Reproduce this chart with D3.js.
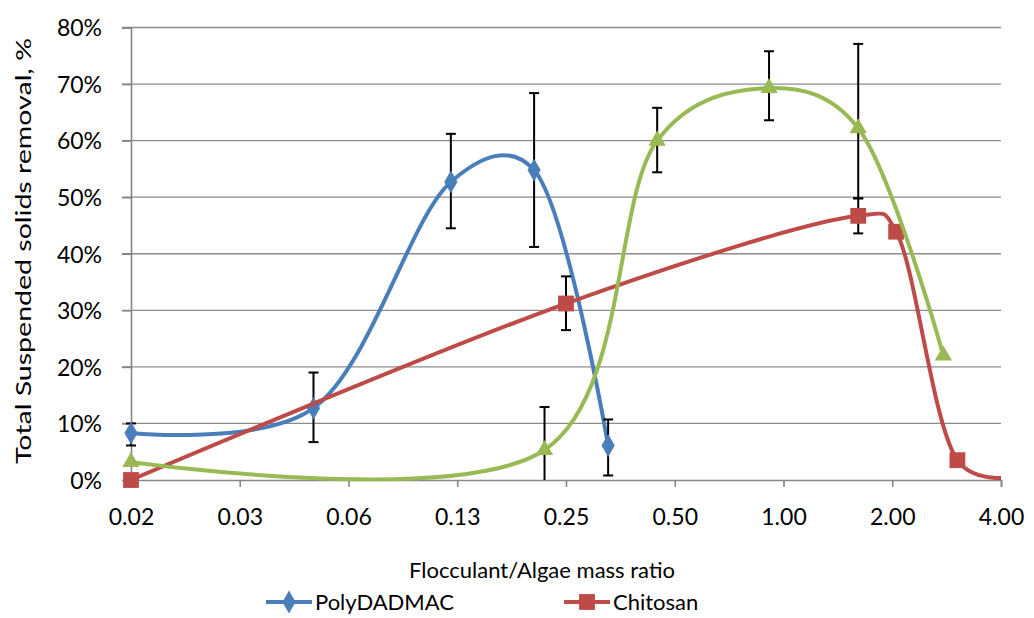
<!DOCTYPE html>
<html>
<head>
<meta charset="utf-8">
<script src="https://cdn.jsdelivr.net/npm/d3@7"></script>
<style>
  body { margin: 0; background: #fff; }
  svg { font-family: Lato, "Open Sans", sans-serif; }
</style>
</head>
<body>
<svg id="chart" width="1034" height="618"></svg>
<script>
// x tick values (powers of two) and their printed labels
var tickValues = [0.015625, 0.03125, 0.0625, 0.125, 0.25, 0.5, 1, 2, 4];
var tickLabels = ["0.02", "0.03", "0.06", "0.13", "0.25", "0.50", "1.00", "2.00", "4.00"];
var yTicks = [0, 10, 20, 30, 40, 50, 60, 70, 80];

// PolyDADMAC
var polyX = [0.015625, 0.05, 0.12, 0.204, 0.327];
var polyY = [8.3, 12.7, 52.7, 54.8, 6.1];
var polyPlus = [1.7, 6.3, 8.5, 13.6, 4.6];
var polyMinus = [2.2, 6.0, 8.2, 13.6, 5.3];

// Chitosan (last point lies past the axis end, line is clipped)
var chitX = [0.015625, 0.25, 1.61, 2.05, 3.03, 4.5];
var chitY = [0, 31.2, 46.7, 43.9, 3.5, 0.7];
var chitPlus = [0, 4.8, 3.1, 0, 0, 0];
var chitMinus = [0, 4.7, 3.1, 0, 0, 0];

// third series (green, its legend entry is cut off in the picture)
var thirdX = [0.015625, 0.218, 0.447, 0.912, 1.61, 2.77];
var thirdY = [3.2, 5.3, 60.0, 69.3, 62.2, 22.0];
var thirdPlus = [0, 7.6, 5.8, 6.5, 14.9, 0];
var thirdMinus = [0, 7.6, 5.6, 5.7, 12.4, 0];

var margin = {left: 131, right: 1001, top: 27.5, bottom: 480};

var svg = d3.select("#chart");

var x = d3.scaleLog().base(2)
    .domain([tickValues[0], tickValues[tickValues.length - 1]])
    .range([margin.left, margin.right]);

var y = d3.scaleLinear()
    .domain([0, 80])
    .range([margin.bottom, margin.top]);

// gridlines
svg.append("g")
    .selectAll("line")
    .data(yTicks.slice(1))
    .enter().append("line")
    .attr("x1", margin.left - 9).attr("x2", margin.right)
    .attr("y1", d => y(d)).attr("y2", d => y(d))
    .attr("stroke", "#8c8c8c").attr("stroke-width", 1.3);

// y axis
var yAxis = d3.axisLeft(y)
    .tickValues(yTicks)
    .tickFormat(d => d + "%")
    .tickSize(9)
    .tickPadding(20);
var yG = svg.append("g")
    .attr("transform", "translate(" + margin.left + ",0)")
    .call(yAxis);

// x axis
var xAxis = d3.axisBottom(x)
    .tickValues(tickValues)
    .tickFormat((d, i) => tickLabels[i])
    .tickSize(7)
    .tickPadding(22);
var xG = svg.append("g")
    .attr("transform", "translate(0," + margin.bottom + ")")
    .call(xAxis);

[yG, xG].forEach(function(g) {
    g.select(".domain").attr("stroke", "#868686").attr("stroke-width", 1.6);
    g.selectAll(".tick line").attr("stroke", "#868686").attr("stroke-width", 1.6);
    g.selectAll("text").attr("fill", "#000").style("font-size", "23px")
        .style("font-family", "Lato, sans-serif");
});
yG.selectAll("text").attr("dy", "0.36em");

// axis titles
svg.append("text")
    .attr("x", 542).attr("y", 578)
    .attr("text-anchor", "middle")
    .style("font-size", "22px")
    .text("Flocculant/Algae mass ratio");

svg.append("text")
    .attr("transform", "translate(31,251) rotate(-90)")
    .attr("text-anchor", "middle")
    .attr("textLength", 426)
    .attr("lengthAdjust", "spacingAndGlyphs")
    .style("font-size", "22px")
    .text("Total Suspended solids removal, %");

// clip for lines
svg.append("clipPath").attr("id", "plotClip")
    .append("rect")
    .attr("x", margin.left).attr("y", 0)
    .attr("width", margin.right - margin.left)
    .attr("height", margin.bottom + 10);

var line = d3.line()
    .x(d => x(d.x))
    .y(d => y(d.y))
    .curve(d3.curveCatmullRom.alpha(0.25));

var series = [
    {name: "PolyDADMAC", xs: polyX, ys: polyY, plus: polyPlus, minus: polyMinus,
     color: "#4a7ebb", marker: d3.symbolDiamond, size: 150},
    {name: "Chitosan", xs: chitX, ys: chitY, plus: chitPlus, minus: chitMinus,
     color: "#be4b48", marker: d3.symbolSquare, size: 250},
    {name: "Series3", xs: thirdX, ys: thirdY, plus: thirdPlus, minus: thirdMinus,
     color: "#98b954", marker: d3.symbolTriangle, size: 130}
];

series.forEach(function(s) {
    var pts = s.xs.map((v, i) => ({x: v, y: s.ys[i], p: s.plus[i], m: s.minus[i]}));
    var g = svg.append("g");

    g.append("path")
        .datum(pts)
        .attr("clip-path", "url(#plotClip)")
        .attr("fill", "none")
        .attr("stroke", s.color)
        .attr("stroke-width", 4)
        .attr("d", line);

    var visible = pts.filter(d => d.x <= tickValues[tickValues.length - 1]);

    // error bars
    var eb = g.selectAll(".err")
        .data(visible.filter(d => d.p > 0 || d.m > 0))
        .enter().append("g");
    eb.append("line")
        .attr("x1", d => x(d.x)).attr("x2", d => x(d.x))
        .attr("y1", d => y(d.y + d.p)).attr("y2", d => y(Math.max(0, d.y - d.m)))
        .attr("stroke", "#000").attr("stroke-width", 2);
    eb.append("line")
        .attr("x1", d => x(d.x) - 5).attr("x2", d => x(d.x) + 5)
        .attr("y1", d => y(d.y + d.p)).attr("y2", d => y(d.y + d.p))
        .attr("stroke", "#000").attr("stroke-width", 2);
    eb.filter(d => d.y - d.m > 0).append("line")
        .attr("x1", d => x(d.x) - 5).attr("x2", d => x(d.x) + 5)
        .attr("y1", d => y(d.y - d.m)).attr("y2", d => y(d.y - d.m))
        .attr("stroke", "#000").attr("stroke-width", 2);

    // markers
    g.selectAll(".mk")
        .data(visible)
        .enter().append("path")
        .attr("transform", d => "translate(" + x(d.x) + "," + y(d.y) + ")")
        .attr("d", d3.symbol().type(s.marker).size(s.size))
        .attr("fill", s.color);
});

// legend (only the first two entries fit in the frame)
var legendItems = [series[0], series[1]];
var legendX = [266, 564];
var lg = svg.append("g").selectAll("g")
    .data(legendItems)
    .enter().append("g")
    .attr("transform", (d, i) => "translate(" + legendX[i] + ",602)");
lg.append("line")
    .attr("x1", 0).attr("x2", 46)
    .attr("stroke", d => d.color).attr("stroke-width", 4);
lg.append("path")
    .attr("transform", "translate(23,0)")
    .attr("d", d => d3.symbol().type(d.marker).size(d.size)())
    .attr("fill", d => d.color);
lg.append("text")
    .attr("x", 49).attr("dy", "0.36em")
    .style("font-size", "22px")
    .text(d => d.name);
</script>
</body>
</html>
